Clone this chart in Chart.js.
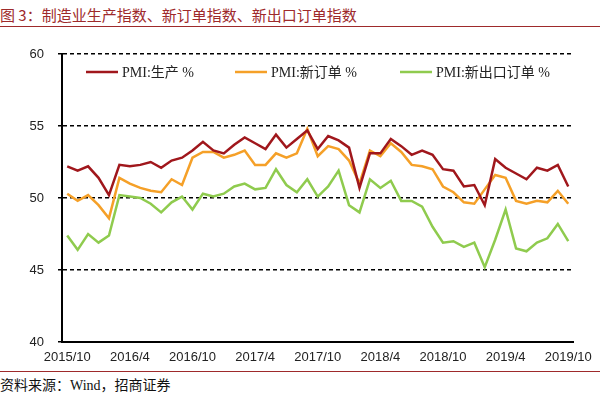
<!DOCTYPE html>
<html>
<head>
<meta charset="utf-8">
<script src="https://cdn.jsdelivr.net/npm/chart.js@4.4.0/dist/chart.umd.min.js"></script>
<style>
  body { margin: 0; background: #fff; width: 600px; height: 393px; overflow: hidden; position: relative; }
  #title { position: absolute; left: 0; top: 4px; font: 15px "Noto Sans CJK SC", sans-serif; color: #9E2A2B; white-space: nowrap; }
  .rule { position: absolute; left: 0; width: 600px; height: 1px; background: #9E2A2B; }
  #chart-wrap { position: absolute; left: 0; top: 0; width: 600px; height: 368px; }
  #source { position: absolute; left: 0; top: 374px; font: 14px "Liberation Serif", "Noto Sans CJK SC", serif; color: #111; white-space: nowrap; }
</style>
</head>
<body>
<div id="title">图 3：制造业生产指数、新订单指数、新出口订单指数</div>
<div class="rule" style="top:26px"></div>
<div id="chart-wrap"><canvas id="pmiChart" width="600" height="368"></canvas></div>
<div class="rule" style="top:371px"></div>
<div id="source">资料来源：Wind，招商证券</div>
<script>
const ctx = document.getElementById('pmiChart').getContext('2d');

// Months 2015/10 - 2019/10
const months = [
  '2015/10', '2015/11', '2015/12',
  '2016/1', '2016/2', '2016/3', '2016/4', '2016/5', '2016/6', '2016/7', '2016/8', '2016/9', '2016/10', '2016/11', '2016/12',
  '2017/1', '2017/2', '2017/3', '2017/4', '2017/5', '2017/6', '2017/7', '2017/8', '2017/9', '2017/10', '2017/11', '2017/12',
  '2018/1', '2018/2', '2018/3', '2018/4', '2018/5', '2018/6', '2018/7', '2018/8', '2018/9', '2018/10', '2018/11', '2018/12',
  '2019/1', '2019/2', '2019/3', '2019/4', '2019/5', '2019/6', '2019/7', '2019/8', '2019/9', '2019/10'
];

// PMI sub-indices (%)
const production = [
  52.2, 51.9, 52.2,
  51.4, 50.2, 52.3, 52.2, 52.3, 52.5, 52.1, 52.6, 52.8, 53.3, 53.9, 53.3,
  53.1, 53.7, 54.2, 53.8, 53.4, 54.4, 53.5, 54.1, 54.7, 53.4, 54.3, 54.0,
  53.5, 50.7, 53.1, 53.1, 54.1, 53.6, 53.0, 53.3, 53.0, 52.0, 51.9, 50.8,
  50.9, 49.5, 52.7, 52.1, 51.7, 51.3, 52.1, 51.9, 52.3, 50.8
];
const newOrders = [
  50.3, 49.8, 50.2,
  49.5, 48.6, 51.4, 51.0, 50.7, 50.5, 50.4, 51.3, 50.9, 52.8, 53.2, 53.2,
  52.8, 53.0, 53.3, 52.3, 52.3, 53.1, 52.8, 53.1, 54.8, 52.9, 53.6, 53.4,
  52.6, 51.0, 53.3, 52.9, 53.8, 53.2, 52.3, 52.2, 52.0, 50.8, 50.4, 49.7,
  49.6, 50.6, 51.6, 51.4, 49.8, 49.6, 49.8, 49.7, 50.5, 49.6
];
const exportOrders = [
  47.4, 46.4, 47.5,
  46.9, 47.4, 50.2, 50.1, 50.0, 49.6, 49.0, 49.7, 50.1, 49.2, 50.3, 50.1,
  50.3, 50.8, 51.0, 50.6, 50.7, 52.0, 50.9, 50.4, 51.3, 50.1, 50.8, 51.9,
  49.5, 49.0, 51.3, 50.7, 51.2, 49.8, 49.8, 49.4, 48.0, 46.9, 47.0, 46.6,
  46.9, 45.2, 47.1, 49.2, 46.5, 46.3, 46.9, 47.2, 48.2, 47.0
];

const seriesNames = ['PMI:生产 %', 'PMI:新订单 %', 'PMI:新出口订单 %'];
const seriesColors = ['#A0171C', '#F5A028', '#8FCB4E'];

// legend sits inside the plot, drawn by hand
const LEGEND_X = [86, 235, 400];
const LEGEND_Y = 72;

const insideLegend = {
  id: 'insideLegend',
  afterDraw(chart) {
    const c = chart.ctx;
    c.save();
    c.font = '14px "Liberation Serif", "Noto Sans CJK SC", serif';
    c.textBaseline = 'middle';
    chart.data.datasets.forEach((ds, i) => {
      const x = LEGEND_X[i];
      c.strokeStyle = ds.borderColor;
      c.lineWidth = 2.5;
      c.beginPath();
      c.moveTo(x, LEGEND_Y);
      c.lineTo(x + 32, LEGEND_Y);
      c.stroke();
      c.fillStyle = '#222';
      c.fillText(ds.label, x + 36, LEGEND_Y + 1);
    });
    c.restore();
  }
};

const makeSeries = (i, data) => ({
  label: seriesNames[i],
  data: data,
  borderColor: seriesColors[i],
  backgroundColor: seriesColors[i],
  borderWidth: 2.5,
  pointRadius: 0,
  tension: 0,
  fill: false
});

const pmiChart = new Chart(ctx, {
  type: 'line',
  data: {
    labels: months,
    datasets: [
      makeSeries(0, production),
      makeSeries(1, newOrders),
      makeSeries(2, exportOrders)
    ]
  },
  plugins: [insideLegend],
  options: {
    responsive: false,
    animation: false,
    devicePixelRatio: 1,
    layout: { padding: { top: 54, right: 25, left: 0, bottom: 0 } },
    plugins: {
      legend: { display: false },
      tooltip: { enabled: false }
    },
    scales: {
      x: {
        offset: true,
        afterFit: (scale) => { scale.height = 26; },
        grid: { display: false, drawTicks: false },
        border: { display: true, color: '#000', width: 2 },
        ticks: {
          autoSkip: false,
          maxRotation: 0,
          padding: 8,
          color: '#222',
          font: { family: '"Liberation Sans", Arial, sans-serif', size: 13 },
          callback: function (v, i) { return i % 6 === 0 ? this.getLabelForValue(v) : ''; }
        }
      },
      y: {
        min: 40,
        max: 60,
        afterFit: (scale) => { scale.width = 62; },
        grid: { color: '#000', lineWidth: 1.5, tickLength: 4, tickColor: '#000', tickWidth: 1.5 },
        border: { display: true, color: '#000', width: 2, dash: [4, 3] },
        ticks: {
          stepSize: 5,
          padding: 14,
          color: '#222',
          font: { family: '"Liberation Sans", Arial, sans-serif', size: 13 }
        }
      }
    }
  }
});
</script>
</body>
</html>
